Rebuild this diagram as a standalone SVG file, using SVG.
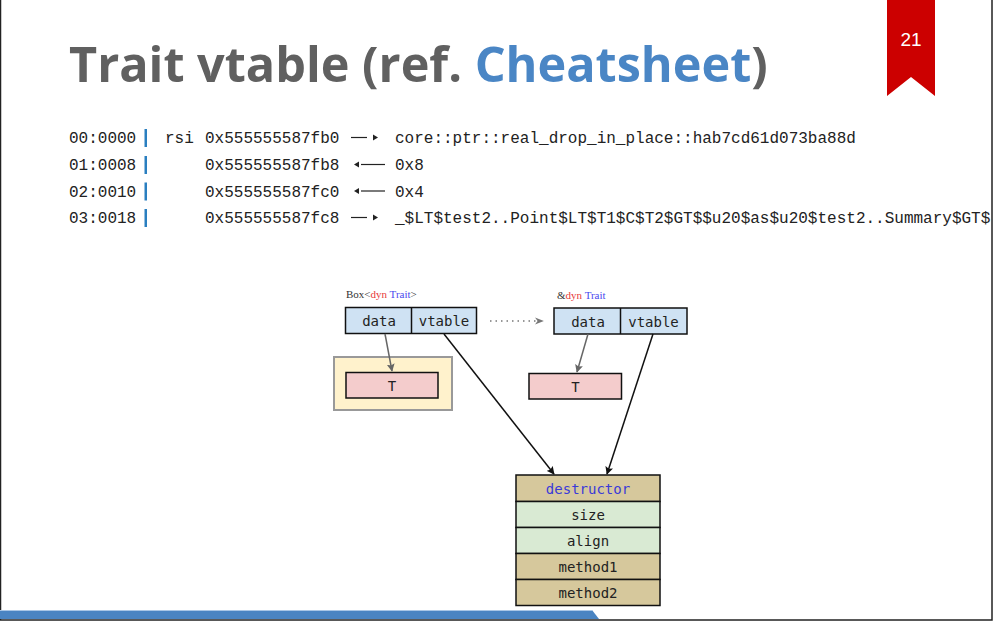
<svg xmlns="http://www.w3.org/2000/svg" width="993" height="621" viewBox="0 0 993 621">
<style>
.code{font-family:"Liberation Mono","DejaVu Sans Mono",monospace;font-size:16px;fill:#222}
.bar{fill:#2a7fc0}
.mono{font-family:"DejaVu Sans Mono","Liberation Mono",monospace;font-size:14px;fill:#222;text-anchor:middle}
.lbl{font-family:"Liberation Serif","DejaVu Serif",serif;font-size:11px;fill:#333}
.ttl{font-family:"Open Sans","DejaVu Sans",sans-serif;font-weight:bold;font-size:48.6px;fill:#606060}
.ptr{fill:#cfe2f3;stroke:#111;stroke-width:1.5}
.tbox{fill:#f4cccc;stroke:#111;stroke-width:1.5}
.tan{fill:#d6c89c;stroke:#111;stroke-width:1.5}
.grn{fill:#d9ead3;stroke:#111;stroke-width:1.5}
</style>
<defs>
<marker id="ah" viewBox="0 0 10 10" refX="9" refY="5" markerWidth="8" markerHeight="8" markerUnits="userSpaceOnUse" orient="auto"><path d="M0,0 L10,5 L0,10 L2,5 z" fill="#111"/></marker>
<marker id="ahg" viewBox="0 0 10 10" refX="9" refY="5" markerWidth="8" markerHeight="8" markerUnits="userSpaceOnUse" orient="auto"><path d="M0,0 L10,5 L0,10 L2,5 z" fill="#666"/></marker>
<marker id="ahd" viewBox="0 0 10 10" refX="9" refY="5" markerWidth="9" markerHeight="9" markerUnits="userSpaceOnUse" orient="auto"><path d="M0,1 L10,5 L0,9 L3,5 z" fill="#777"/></marker>
</defs>
<rect x="0" y="0" width="993" height="621" fill="#fff"/>
<!-- frame -->
<rect x="0.5" y="-2" width="991.5" height="622" fill="none" stroke="#222" stroke-width="1.5"/>
<!-- bottom blue bar -->
<path d="M0,610 L592,610 L599,619 L0,619 z" fill="#4a84c2"/>
<line x1="0" y1="610.5" x2="592" y2="610.5" stroke="#a9c6e6" stroke-width="1"/>
<!-- ribbon -->
<g id="ribbon">
<path d="M887,0 L935,0 L935,96 L911,77 L887,96 z" fill="#cc0000"/>
<text x="911" y="46" font-family="Liberation Sans,Arial,sans-serif" font-size="19" fill="#fff" text-anchor="middle">21</text>
</g>
<!-- title -->
<g id="title">
<text class="ttl" x="69" y="82">Trait vtable (ref. <tspan style="fill:#4a86c5">Cheatsheet</tspan>)</text>
</g>
<!-- code listing -->
<g id="code">
<text class="code" x="69" y="143">00:0000</text>
<text class="code" x="69" y="170">01:0008</text>
<text class="code" x="69" y="196.5">02:0010</text>
<text class="code" x="69" y="223">03:0018</text>
<rect class="bar" x="144.5" y="129" width="2.5" height="18"/>
<rect class="bar" x="144.5" y="156" width="2.5" height="18"/>
<rect class="bar" x="144.5" y="182.5" width="2.5" height="18"/>
<rect class="bar" x="144.5" y="209" width="2.5" height="18"/>
<text class="code" x="165" y="143">rsi</text>
<text class="code" x="205" y="143">0x555555587fb0</text>
<text class="code" x="205" y="170">0x555555587fb8</text>
<text class="code" x="205" y="196.5">0x555555587fc0</text>
<text class="code" x="205" y="223">0x555555587fc8</text>
<g stroke="#222" stroke-width="1.2">
<line x1="351" y1="137.5" x2="367" y2="137.5"/>
<line x1="361" y1="164.5" x2="385" y2="164.5"/>
<line x1="361" y1="191" x2="385" y2="191"/>
<line x1="351" y1="217.5" x2="367" y2="217.5"/>
</g>
<g fill="#222">
<path d="M373,134.5 L378,137.5 L373,140.5 z"/>
<path d="M359,161.5 L354,164.5 L359,167.5 z"/>
<path d="M359,188 L354,191 L359,194 z"/>
<path d="M373,214.5 L378,217.5 L373,220.5 z"/>
</g>
<text class="code" x="395" y="143">core::ptr::real_drop_in_place::hab7cd61d073ba88d</text>
<text class="code" x="395" y="170">0x8</text>
<text class="code" x="395" y="196.5">0x4</text>
<text class="code" x="395" y="223">_$LT$test2..Point$LT$T1$C$T2$GT$$u20$as$u20$test2..Summary$GT$</text>
</g>
<!-- labels -->
<g id="label-box">
<text class="lbl" x="346" y="298">Box&lt;<tspan fill="#e83a3a">dyn</tspan> <tspan fill="#4a4aee">Trait</tspan>&gt;</text>
</g>
<g id="label-ref">
<text class="lbl" x="557" y="299">&amp;<tspan fill="#e83a3a">dyn</tspan> <tspan fill="#4a4aee">Trait</tspan></text>
</g>
<!-- Box pointer -->
<g id="box-ptr">
<rect class="ptr" x="345.5" y="307.5" width="131" height="26"/>
<line x1="411.5" y1="307.5" x2="411.5" y2="333.5" stroke="#111" stroke-width="1.5"/>
<text class="mono" x="379" y="326">data</text>
<text class="mono" x="444" y="326">vtable</text>
</g>
<!-- heap box -->
<g id="heap">
<rect x="334" y="357" width="118" height="53" fill="#fff2cc" stroke="#999" stroke-width="2"/>
<rect class="tbox" x="346" y="372.5" width="92" height="25.5"/>
<text class="mono" x="392" y="390.5">T</text>
</g>
<!-- ref pointer -->
<g id="ref-ptr">
<rect class="ptr" x="554" y="308" width="133" height="26"/>
<line x1="620.5" y1="308" x2="620.5" y2="334" stroke="#111" stroke-width="1.5"/>
<text class="mono" x="588" y="326.5">data</text>
<text class="mono" x="653.5" y="326.5">vtable</text>
</g>
<g id="ref-t">
<rect class="tbox" x="529" y="373.5" width="92.5" height="25.5"/>
<text class="mono" x="575.5" y="391.5">T</text>
</g>
<!-- vtable -->
<g id="vtable">
<rect class="tan" x="516" y="475" width="144" height="26.5"/>
<rect class="grn" x="516" y="501.5" width="144" height="26"/>
<rect class="grn" x="516" y="527.5" width="144" height="26"/>
<rect class="tan" x="516" y="553.5" width="144" height="26"/>
<rect class="tan" x="516" y="579.5" width="144" height="26"/>
<text class="mono" x="588" y="494" style="fill:#3a3ad8">destructor</text>
<text class="mono" x="588" y="520">size</text>
<text class="mono" x="588" y="546">align</text>
<text class="mono" x="588" y="572">method1</text>
<text class="mono" x="588" y="598">method2</text>
</g>
<!-- connectors -->
<g id="connectors" fill="none">
<line x1="385" y1="334" x2="392" y2="371" stroke="#666" stroke-width="1.5" marker-end="url(#ahg)"/>
<line x1="588" y1="334" x2="577" y2="372" stroke="#666" stroke-width="1.5" marker-end="url(#ahg)"/>
<line x1="444" y1="334" x2="554" y2="474" stroke="#111" stroke-width="1.5" marker-end="url(#ah)"/>
<line x1="653" y1="334" x2="607" y2="474" stroke="#111" stroke-width="1.5" marker-end="url(#ah)"/>
<line x1="490" y1="321" x2="543" y2="321" stroke="#777" stroke-width="1.5" stroke-dasharray="1.5,4" marker-end="url(#ahd)"/>
</g>
</svg>
